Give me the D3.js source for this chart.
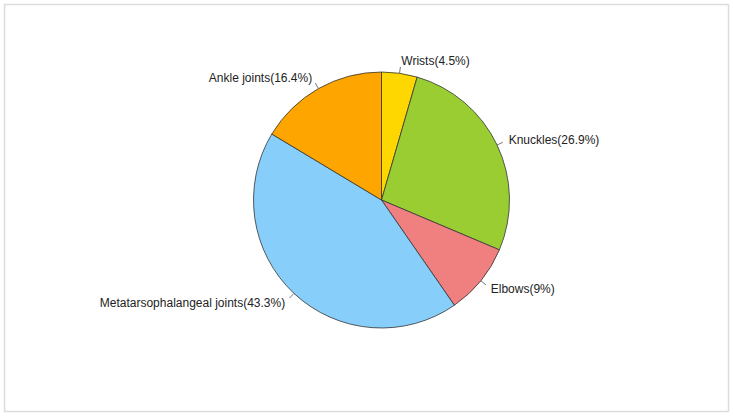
<!DOCTYPE html>
<html>
<head>
<meta charset="utf-8">
<script src="https://cdn.jsdelivr.net/npm/d3@7"></script>
<style>
html,body{margin:0;padding:0;background:#fff;}
svg{display:block;}
</style>
</head>
<body>
<svg id="chart" width="733" height="416"></svg>
<script>
const categories = ["Wrists", "Knuckles", "Elbows", "Metatarsophalangeal joints", "Ankle joints"];
const values = [4.5, 26.9, 9, 43.3, 16.4];
const labels = ["Wrists(4.5%)", "Knuckles(26.9%)", "Elbows(9%)", "Metatarsophalangeal joints(43.3%)", "Ankle joints(16.4%)"];
const colors = ["#FFD700", "#9ACD32", "#F08080", "#87CEFA", "#FFA500"];

const svg = d3.select("#chart");
svg.append("rect").attr("x", 4.5).attr("y", 4.5).attr("width", 724).attr("height", 407)
  .attr("fill", "#fff").attr("stroke", "#dcdcdc").attr("stroke-width", 1.5);

const cx = 381.5, cy = 200, R = 128;
const g = svg.append("g").attr("transform", `translate(${cx},${cy})`);

const data = categories.map((c, i) => ({cat: c, value: values[i], label: labels[i], color: colors[i]}));
const pie = d3.pie().value(d => d.value).sort(null);
const arcs = pie(data);
const arc = d3.arc().innerRadius(0).outerRadius(R);

g.selectAll("path.slice").data(arcs).enter().append("path")
  .attr("class", "slice")
  .attr("d", arc)
  .attr("fill", d => d.data.color)
  .attr("stroke", "#333")
  .attr("stroke-width", 0.8);

arcs.forEach(d => {
  const a = (d.startAngle + d.endAngle) / 2;
  const sx = Math.sin(a), sy = -Math.cos(a);
  g.append("line")
    .attr("x1", sx * R).attr("y1", sy * R)
    .attr("x2", sx * R * 1.05).attr("y2", sy * R * 1.05)
    .attr("stroke", "#555").attr("stroke-width", 0.8);
  g.append("text")
    .attr("x", sx * R * 1.1).attr("y", sy * R * 1.1)
    .attr("dy", "0.35em")
    .attr("text-anchor", sx >= 0 ? "start" : "end")
    .attr("font-family", "Liberation Sans, Arial, sans-serif")
    .attr("font-size", 12)
    .attr("fill", "#222")
    .text(d.data.label);
});
</script>
</body>
</html>
